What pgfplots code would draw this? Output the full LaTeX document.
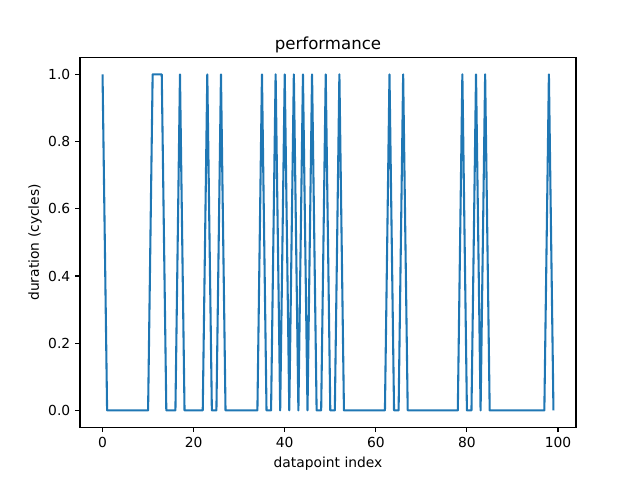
\documentclass[border=0pt]{standalone}
\usepackage{pgfplots}
\pgfplotsset{compat=1.18}
\usepackage{fontspec}
\setmainfont{DejaVu Sans}
\definecolor{tabblue}{HTML}{1F77B4}
\pgfplotstableread{
x y
0 1
1 0
2 0
3 0
4 0
5 0
6 0
7 0
8 0
9 0
10 0
11 1
12 1
13 1
14 0
15 0
16 0
17 1
18 0
19 0
20 0
21 0
22 0
23 1
24 0
25 0
26 1
27 0
28 0
29 0
30 0
31 0
32 0
33 0
34 0
35 1
36 0
37 0
38 1
39 0
40 1
41 0
42 1
43 0
44 1
45 0
46 1
47 0
48 0
49 1
50 0
51 0
52 1
53 0
54 0
55 0
56 0
57 0
58 0
59 0
60 0
61 0
62 0
63 1
64 0
65 0
66 1
67 0
68 0
69 0
70 0
71 0
72 0
73 0
74 0
75 0
76 0
77 0
78 0
79 1
80 0
81 0
82 1
83 0
84 1
85 0
86 0
87 0
88 0
89 0
90 0
91 0
92 0
93 0
94 0
95 0
96 0
97 0
98 1
99 0
}\datatable
\begin{document}
\begin{tikzpicture}
\begin{axis}[
  scale only axis, width=357.12bp, height=266.112bp,
  xmin=-4.95, xmax=103.95, ymin=-0.05, ymax=1.05,
  xtick={0,20,40,60,80,100}, ytick={0,0.2,0.4,0.6,0.8,1},
  yticklabel style={/pgf/number format/.cd,fixed,fixed zerofill,precision=1},
  /pgf/number format/assume math mode=true,
  tick align=outside, tick pos=left, major tick length=3.5bp,
  tick style={black, line width=0.8bp},
  axis line style={line width=0.8bp},
  xlabel={datapoint index},
  label style={font=\fontsize{10}{12}\selectfont},
  tick label style={font=\fontsize{10}{12}\selectfont},
]
\addplot[tabblue, line width=1.5bp, no marks, line join=round] table[x=x,y=y] {\datatable};
\end{axis}
\node[font=\fontsize{12}{14}\selectfont, anchor=base, inner sep=0pt] at ([yshift=6bp]current axis.north) {performance};
\node[font=\fontsize{10}{12}\selectfont, rotate=90, anchor=center, inner sep=0pt] at ([xshift=-32.4bp]current axis.west) {duration (cycles)};
\useasboundingbox ([xshift=-57.6bp,yshift=-38.016bp]current axis.south west) rectangle ([xshift=46.08bp,yshift=41.472bp]current axis.north east);
\end{tikzpicture}
\end{document}
